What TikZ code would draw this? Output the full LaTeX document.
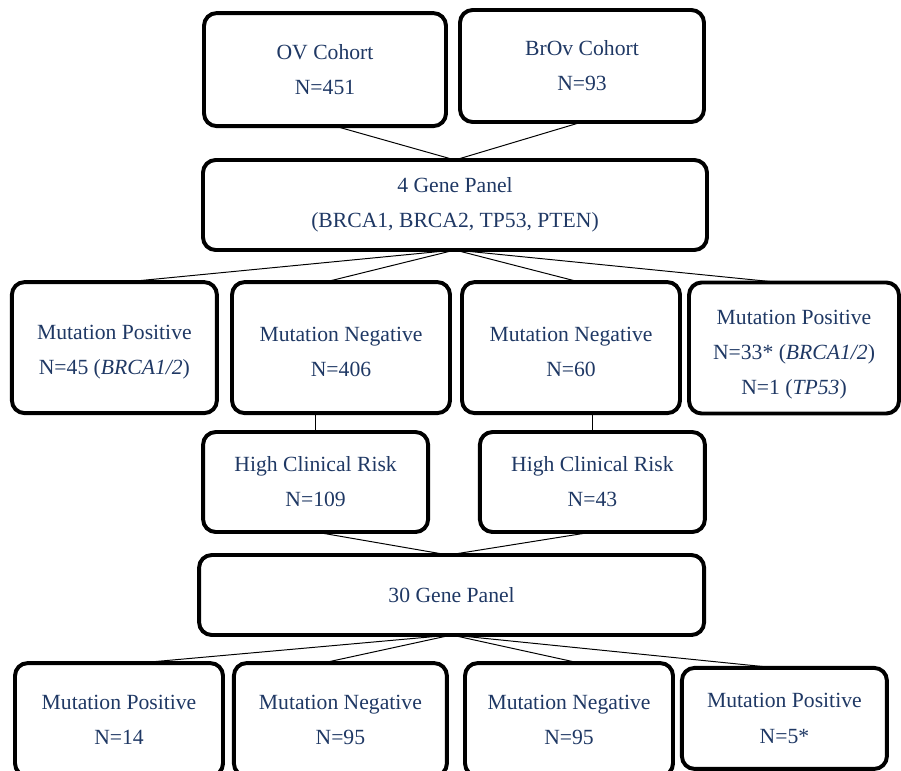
\documentclass[tikz,border=0pt]{standalone}
\usepackage{fontspec}
\setmainfont{Liberation Serif}
\usepackage[dvipsnames]{xcolor}
\usepackage{tikz}
\definecolor{navytext}{RGB}{31,56,100}

\begin{document}
\begin{tikzpicture}[
        box/.style={draw, line width=2.8pt, rounded corners=9pt, align=center,
                    text=navytext, inner sep=0pt, outer sep=0pt,
                    font=\fontsize{15.4}{25}\selectfont},
        lowtext/.style={text height=#1},
        lowtext/.default=41.5pt,
        link/.style={black, line width=0.7pt}
    ]
        \clip (0,0) rectangle (22.525,-19.25);
        % cohorts
        \node [box, minimum width=6.05cm, minimum height=2.825cm] (ov) at (8.125,-1.74) {OV Cohort\\N=451};
        \node [box, minimum width=6.1cm, minimum height=2.8cm] (brov) at (14.55,-1.65) {BrOv Cohort\\N=93};
        \node [box, minimum width=12.6cm, minimum height=2.25cm] (gpfour) at (11.375,-5.125) {4 Gene Panel\\(BRCA1, BRCA2, TP53, PTEN)};
        % first screening
        \node [box, lowtext, minimum width=5.125cm, minimum height=3.275cm] (posA) at (2.86,-8.69) {Mutation Positive\\N=45 (\textit{BRCA1/2})};
        \node [box, lowtext, minimum width=5.45cm, minimum height=3.275cm] (negA) at (8.525,-8.69) {Mutation Negative\\N=406};
        \node [box, lowtext, minimum width=5.45cm, minimum height=3.275cm] (negB) at (14.275,-8.69) {Mutation Negative\\N=60};
        \node [box, lowtext=70pt, minimum width=5.25cm, minimum height=3.275cm] (posB) at (19.85,-8.7) {Mutation Positive\\N=33* (\textit{BRCA1/2})\\N=1 (\textit{TP53})};
        \node [box, minimum width=5.625cm, minimum height=2.5cm] (riskA) at (7.89,-12.05) {High Clinical Risk\\N=109};
        \node [box, minimum width=5.625cm, minimum height=2.5cm] (riskB) at (14.81,-12.05) {High Clinical Risk\\N=43};
        \node [box, minimum width=12.625cm, minimum height=2cm] (gpthirty) at (11.29,-14.875) {30 Gene Panel};
        % second screening
        \node [box, minimum width=5.2cm, minimum height=2.825cm] (posC) at (2.975,-17.99) {Mutation Positive\\N=14};
        \node [box, minimum width=5.325cm, minimum height=2.825cm] (negC) at (8.51,-17.99) {Mutation Negative\\N=95};
        \node [box, minimum width=5.2cm, minimum height=2.825cm] (negD) at (14.225,-17.99) {Mutation Negative\\N=95};
        \node [box, minimum width=5.125cm, minimum height=2.525cm] (posD) at (19.61,-17.96) {Mutation Positive\\N=5*};

        \draw [link] ([xshift=0.25cm]ov.south) -- (gpfour.north);
        \draw [link] (brov.south) -- (gpfour.north);
        \draw [link] (gpfour.south) -- ([xshift=0.25cm]posA.north);
        \draw [link] (gpfour.south) -- ([xshift=-0.4cm]negA.north);
        \draw [link] (gpfour.south) -- ([xshift=0.22cm]negB.north);
        \draw [link] (gpfour.south) -- ([xshift=-0.35cm]posB.north);
        \draw [link] (riskA.north) -- (riskA.north |- negA.south);
        \draw [link] (riskB.north) -- (riskB.north |- negB.south);
        \draw [link] (riskA.south) -- ([xshift=-0.08cm]gpthirty.north);
        \draw [link] (riskB.south) -- ([xshift=-0.08cm]gpthirty.north);
        \draw [link] (gpthirty.south) -- ([xshift=0.47cm]posC.north);
        \draw [link] (gpthirty.south) -- ([xshift=-0.45cm]negC.north);
        \draw [link] (gpthirty.south) -- ([xshift=0.27cm]negD.north);
        \draw [link] (gpthirty.south) -- ([xshift=-0.2cm]posD.north);
\end{tikzpicture}
\end{document}
